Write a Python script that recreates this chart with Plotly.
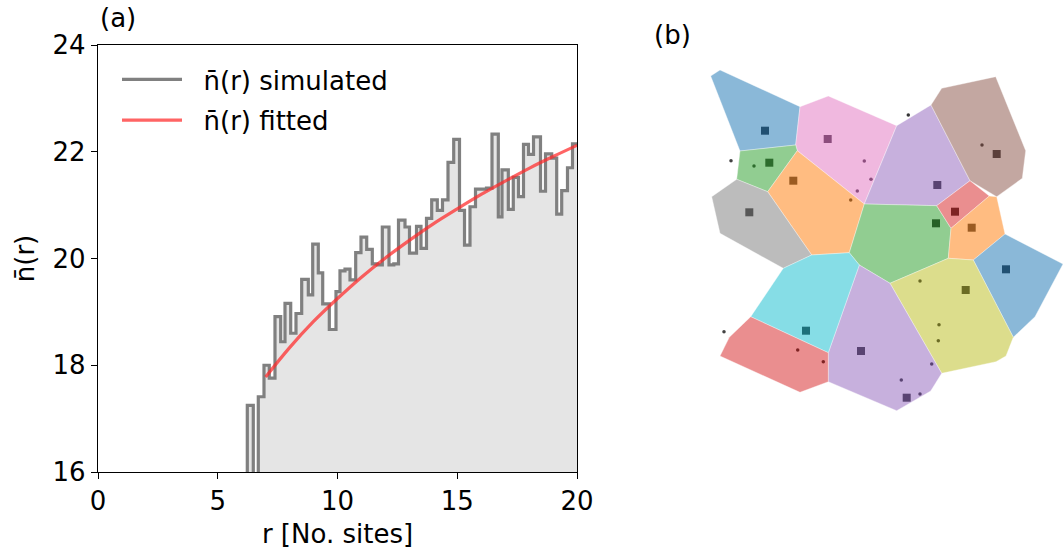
import plotly.graph_objects as go

# ---------------- panel (a): mean occupation vs. radius ----------------
# left edge of each r bin and the simulated mean occupation in that bin
r_edges = [6.00, 6.234, 6.484, 6.693, 6.931, 7.152, 7.390, 7.628, 7.808, 8.046,
           8.267, 8.505, 8.781, 8.965, 9.198, 9.382, 9.658, 9.937, 10.104, 10.313,
           10.522, 10.760, 10.981, 11.219, 11.453, 11.662, 11.871, 12.150, 12.351, 12.547,
           12.818, 13.006, 13.299, 13.486, 13.716, 13.933, 14.167, 14.384, 14.614, 14.852,
           15.094, 15.303, 15.532, 15.762, 15.992, 16.221, 16.451, 16.714, 16.868, 17.132,
           17.340, 17.557, 17.766, 17.975, 18.184, 18.476, 18.685, 18.944, 19.152, 19.361,
           19.603, 19.812]
n_sim = [15.00, 17.25, 15.00, 17.41, 18.00, 17.76, 18.91, 18.44, 19.16, 18.60,
         18.97, 19.61, 19.32, 20.27, 19.73, 19.15, 18.67, 19.38, 19.77, 19.80,
         19.60, 20.11, 20.40, 20.17, 19.90, 19.88, 20.59, 19.88, 19.90, 20.72,
         20.59, 20.10, 20.60, 20.19, 20.75, 21.10, 20.90, 21.10, 21.80, 22.23,
         20.90, 20.25, 20.97, 21.30, 21.30, 21.32, 22.33, 20.78, 21.66, 20.92,
         21.52, 21.16, 22.14, 21.95, 22.28, 21.26, 21.96, 21.88, 20.83, 21.27,
         21.70, 22.15]
r_last = 20.0

# fitted curve sampled at integer radii
r_fit = [7, 8, 9, 10, 11, 12, 13, 14, 15, 16, 17, 18, 19, 20]
n_fit = [17.78, 18.33, 18.82, 19.25, 19.65, 20.01, 20.34, 20.65, 20.93, 21.20,
         21.45, 21.69, 21.91, 22.12]

x_ticks = [0, 5, 10, 15, 20]
y_ticks = [16, 18, 20, 22, 24]

# ---------------- panel (b): Voronoi cells and occupied sites ----------------
cell_colors = ["#1f77b4", "#e377c2", "#9467bd", "#8c564b", "#2ca02c",
               "#ff7f0e", "#7f7f7f", "#2ca02c", "#d62728", "#ff7f0e",
               "#1f77b4", "#bcbd22", "#9467bd", "#17becf", "#d62728"]
cells = [
    [(10.7, 344), (20, 350), (100, 313.3), (95.7, 275), (40, 269)],
    [(100, 313.3), (128.3, 324), (196.7, 294.3), (164.3, 216), (97.3, 269.3), (95.7, 275)],
    [(196.7, 294.3), (231, 315), (270, 239.3), (236.7, 214.3), (164.3, 216)],
    [(231, 315), (241.7, 331.7), (295.7, 343.3), (325.7, 269.3), (322.3, 241.7),
     (296.7, 223.3), (270, 239.3)],
    [(40, 269), (95.7, 275), (97.3, 269.3), (67.7, 228.3), (36.7, 240.7)],
    [(97.3, 269.3), (164.3, 216), (149.3, 167.3), (111.7, 165), (67.7, 228.3)],
    [(36.7, 240.7), (67.7, 228.3), (111.7, 165), (83.3, 151.7), (20, 186.7), (11.7, 223.3)],
    [(164.3, 216), (236.7, 214.3), (251, 191.7), (248.3, 161.7), (190, 136.7),
     (159.3, 155), (149.3, 167.3)],
    [(236.7, 214.3), (270, 239.3), (289.3, 224), (251, 191.7)],
    [(251, 191.7), (289.3, 224), (296.7, 223.3), (305, 186), (273.3, 160), (248.3, 161.7)],
    [(273.3, 160), (305, 186), (363, 156), (335, 103.3), (313.3, 82.7)],
    [(190, 136.7), (248.3, 161.7), (273.3, 160), (313.3, 82.7), (306, 64), (296, 58.3),
     (241.7, 46.7)],
    [(159.3, 155), (190, 136.7), (241.7, 46.7), (230.7, 29), (196.7, 9.3), (128.3, 38.3),
     (128.3, 67.3)],
    [(83.3, 151.7), (111.7, 165), (149.3, 167.3), (159.3, 155), (128.3, 67.3), (50.7, 103.3)],
    [(50.7, 103.3), (128.3, 67.3), (128.3, 38.3), (100, 27.7), (20, 64), (29.3, 82.7)],
]

# clusters of occupied sites (x, y, colour)
cluster_x = [65, 127.7, 69.3, 93.3, 49.3, 237.3, 296.7, 255, 236, 271.7, 306, 265.7, 106, 161, 206.7]
cluster_y = [289.3, 281, 257.3, 239.3, 207.7, 235, 266, 208.3, 196.7, 192.3, 150.7, 130, 89.3, 69, 22.3]
cluster_c = ["#0e3d60", "#7a3a6c", "#1b5a1b", "#8a4a12", "#454545", "#45305f", "#4a2e29",
             "#6b1010", "#134d13", "#8a4a12", "#0e3d60", "#575712", "#0b5d66", "#45305f", "#45305f"]

# isolated occupied sites
dot_x = [31, 54, 164.3, 171, 157.3, 150.7, 208.3, 282, 220, 239, 238.3, 24, 97.7, 123.3, 231.7, 201.3, 220]
dot_y = [259.3, 254, 259, 240.7, 229, 220, 305, 275, 139, 95.3, 79.3, 88.3, 70, 58.3, 56, 40, 26]
dot_c = ["#222222", "#1b5a1b", "#7a3a6c", "#7a3a6c", "#7a3a6c", "#8a4a12", "#111111", "#4a2e29",
         "#575712", "#575712", "#575712", "#222222", "#6b1010", "#6b1010", "#45305f", "#45305f", "#45305f"]


def hex_rgba(h, a):
    h = h.lstrip("#")
    return "rgba(%d,%d,%d,%.2f)" % (int(h[0:2], 16), int(h[2:4], 16), int(h[4:6], 16), a)


FONT = "DejaVu Sans"
FS = 26
W, H = 1063, 556

fig = go.Figure()

x_step = r_edges + [r_last]
y_step = n_sim + [n_sim[-1]]

# shaded area under the simulated curve
fig.add_trace(go.Scatter(
    x=x_step, y=y_step, mode="lines", line=dict(shape="hv", width=0),
    fill="tozeroy", fillcolor="rgb(229,229,229)",
    showlegend=False, hoverinfo="skip", xaxis="x", yaxis="y",
))

# simulated step curve
fig.add_trace(go.Scatter(
    x=x_step, y=y_step, mode="lines",
    line=dict(shape="hv", color="rgb(128,128,128)", width=3.2),
    name="\u00a0\u00a0n\u0304(r) simulated", legendgroup="sim",
    xaxis="x", yaxis="y",
))

# fitted curve
fig.add_trace(go.Scatter(
    x=r_fit, y=n_fit, mode="lines",
    line=dict(shape="spline", color="rgba(255,40,40,0.72)", width=3.2),
    name="\u00a0\u00a0n\u0304(r) fitted", legendgroup="fit",
    xaxis="x", yaxis="y",
))

# Voronoi cells
for pts, col in zip(cells, cell_colors):
    xs = [p[0] for p in pts] + [pts[0][0]]
    ys = [p[1] for p in pts] + [pts[0][1]]
    fig.add_trace(go.Scatter(
        x=xs, y=ys, mode="lines", fill="toself",
        fillcolor=hex_rgba(col, 0.52), line=dict(width=0.6, color="rgba(255,255,255,0.6)"),
        showlegend=False, hoverinfo="skip", xaxis="x2", yaxis="y2",
    ))

fig.add_trace(go.Scatter(
    x=cluster_x, y=cluster_y, mode="markers",
    marker=dict(symbol="square", size=8, color=cluster_c, line=dict(width=0), opacity=0.85),
    showlegend=False, xaxis="x2", yaxis="y2",
))
fig.add_trace(go.Scatter(
    x=dot_x, y=dot_y, mode="markers",
    marker=dict(symbol="circle", size=3.5, color=dot_c, line=dict(width=0), opacity=0.85),
    showlegend=False, xaxis="x2", yaxis="y2",
))

ax_common = dict(
    showgrid=False, zeroline=False, showline=True, mirror=True, automargin=False,
    linecolor="black", linewidth=1.3, ticks="outside", ticklen=6, tickwidth=1.3,
    tickcolor="black", tickfont=dict(family=FONT, size=FS, color="black"),
)

fig.update_layout(
    width=W, height=H,
    margin=dict(l=0, r=0, t=0, b=0, autoexpand=False),
    paper_bgcolor="white", plot_bgcolor="white",
    font=dict(family=FONT, size=FS, color="black"),
    xaxis=dict(domain=[98 / W, 577 / W], range=[0, 20], tickvals=x_ticks,
               title=dict(text="r [No. sites]", font=dict(family=FONT, size=FS), standoff=9),
               **ax_common),
    yaxis=dict(domain=[1 - 472 / H, 1 - 45 / H], range=[16, 24], tickvals=y_ticks,
               title=dict(text="n\u0304(r)", font=dict(family=FONT, size=FS), standoff=10),
               **ax_common),
    xaxis2=dict(domain=[700 / W, 1.0], range=[0, 363], visible=False, anchor="y2"),
    yaxis2=dict(domain=[1 - 420 / H, 1 - 60 / H], range=[0, 360], visible=False, anchor="x2"),
    legend=dict(x=117 / W, y=1 - 56 / H, xanchor="left", yanchor="top",
                bgcolor="rgba(0,0,0,0)", borderwidth=0, itemwidth=60,
                tracegroupgap=4, font=dict(family=FONT, size=FS)),
    showlegend=True,
    annotations=[
        dict(text="(a)", x=98 / W, y=1 - 18 / H, xref="paper", yref="paper",
             xanchor="left", yanchor="middle", showarrow=False,
             font=dict(family=FONT, size=FS)),
        dict(text="(b)", x=652 / W, y=1 - 35 / H, xref="paper", yref="paper",
             xanchor="left", yanchor="middle", showarrow=False,
             font=dict(family=FONT, size=FS)),
    ],
)

fig.write_html("out.html")
